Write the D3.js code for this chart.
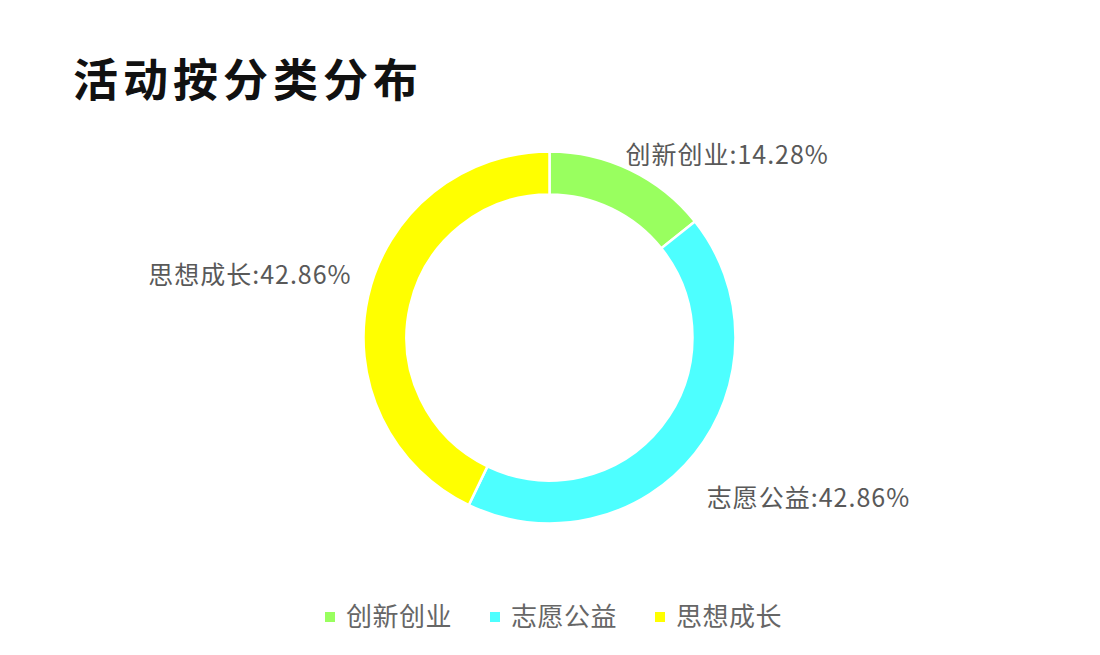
<!DOCTYPE html>
<html>
<head>
<meta charset="utf-8">
<script src="https://cdn.jsdelivr.net/npm/d3@7"></script>
<style>
  body { margin: 0; background: #fff; }
  text { font-family: "Noto Sans CJK SC", "Noto Sans", sans-serif; }
</style>
</head>
<body>
<div id="chart"></div>
<script>
// chart data
var categories = ["创新创业", "志愿公益", "思想成长"];
var counts = [1, 3, 3];
var percentLabels = ["14.28%", "42.86%", "42.86%"];
var colors = ["#99ff5f", "#4dffff", "#ffff00"];

var width = 1100, height = 655;
var cx = 549.5, cy = 337.5,
    outerR = 186, innerR = 143;

var svg = d3.select("#chart").append("svg")
    .attr("width", width)
    .attr("height", height);

svg.append("text")
    .attr("x", 73)
    .attr("y", 81)
    .attr("dy", "0.35em")
    .attr("font-size", 45)
    .attr("font-weight", "bold")
    .attr("letter-spacing", 5)
    .attr("fill", "#111")
    .text("活动按分类分布");

var pie = d3.pie().sort(null).value(function(d) { return d; });
var arcs = pie(counts);

var arc = d3.arc().innerRadius(innerR).outerRadius(outerR);
var labelArc = d3.arc().innerRadius(205).outerRadius(205);

var g = svg.append("g")
    .attr("transform", "translate(" + cx + "," + cy + ")");

g.selectAll("path.slice")
    .data(arcs)
  .enter().append("path")
    .attr("class", "slice")
    .attr("d", arc)
    .attr("fill", function(d, i) { return colors[i]; })
    .attr("stroke", "#fff")
    .attr("stroke-width", 2.5);

// small nudges so labels sit where excel put them
var nudge = [[-13, 2], [-3, 33], [2, -17]];

g.selectAll("text.lbl")
    .data(arcs)
  .enter().append("text")
    .attr("class", "lbl")
    .attr("x", function(d, i) { return labelArc.centroid(d)[0] + nudge[i][0]; })
    .attr("y", function(d, i) { return labelArc.centroid(d)[1] + nudge[i][1]; })
    .attr("dy", "0.35em")
    .attr("text-anchor", function(d) {
      return (d.startAngle + d.endAngle) / 2 > Math.PI ? "end" : "start";
    })
    .attr("font-size", 25)
    .attr("letter-spacing", 1)
    .attr("fill", "#595959")
    .text(function(d, i) { return categories[i] + ":" + percentLabels[i]; });

// legend
var lx = d3.scaleBand().domain(categories).range([325, 820]);

var legend = svg.append("g").selectAll("g")
    .data(categories)
  .enter().append("g")
    .attr("transform", function(d) { return "translate(" + lx(d) + ",617)"; });

legend.append("rect")
    .attr("x", 0)
    .attr("y", -5)
    .attr("width", 10)
    .attr("height", 10)
    .attr("fill", function(d, i) { return colors[i]; });

legend.append("text")
    .attr("x", 21)
    .attr("dy", "0.35em")
    .attr("font-size", 26)
    .attr("letter-spacing", 0.5)
    .attr("fill", "#666")
    .text(function(d) { return d; });
</script>
</body>
</html>
